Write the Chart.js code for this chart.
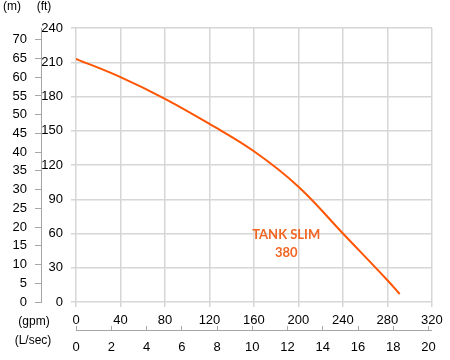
<!DOCTYPE html>
<html>
<head>
<meta charset="utf-8">
<script src="https://cdn.jsdelivr.net/npm/chart.js@4.4.1/dist/chart.umd.min.js"></script>
<style>
  html, body { margin: 0; padding: 0; background: #fff; }
  #wrap { width: 450px; height: 360px; }
</style>
</head>
<body>
<div id="wrap"><canvas id="myChart"></canvas></div>
<script>
/* Pump curve - TANK SLIM 380 */

const seriesName = 'TANK SLIM 380';
const flowGpm = [0, 40, 80, 120, 160, 200, 240, 280, 291];
const headFt = [213, 197, 178, 156, 132, 101, 60, 19, 7];

const ftTicks = [0, 30, 60, 90, 120, 150, 180, 210, 240];
const mTicks = [0, 5, 10, 15, 20, 25, 30, 35, 40, 45, 50, 55, 60, 65, 70];
const gpmTicks = [0, 40, 80, 120, 160, 200, 240, 280, 320];
const lsecTicks = [0, 2, 4, 6, 8, 10, 12, 14, 16, 18, 20];

const FT_TO_M = 0.3048;
const GPM_TO_LSEC = 0.0630902;

const gridColor = '#d6d6d6';
const axisColor = '#a6a6a6';
const curveColor = '#ff5500';

Chart.defaults.font.family = "'Liberation Sans', Arial, sans-serif";
Chart.defaults.font.size = 13;
Chart.defaults.color = '#000';

function setTicks(list) {
  return function (scale) {
    scale.ticks = list.map(v => ({ value: v }));
  };
}

// unit captions + curve name
const extraText = {
  id: 'extraText',
  afterDraw(chart) {
    const ctx = chart.ctx;
    const xs = chart.scales.x, ys = chart.scales.y;
    ctx.save();
    ctx.fillStyle = '#000';
    ctx.font = "12px 'Liberation Sans', Arial, sans-serif";
    ctx.textAlign = 'center';
    ctx.textBaseline = 'middle';
    ctx.fillText('(m)', 12, 7);
    ctx.fillText('(ft)', 44, 7);
    ctx.fillText('(gpm)', 34, 322);
    ctx.fillText('(L/sec)', 33, 341);

    // curve name near the curve
    ctx.fillStyle = '#f26522';
    ctx.font = "bold 13px Lato, 'Liberation Sans', sans-serif";
    const cx = xs.getPixelForValue(189);
    const cy = ys.getPixelForValue(59);
    const parts = seriesName.split(' ');
    ctx.fillText(parts[0] + ' ' + parts[1], cx, cy);
    ctx.fillText(parts[2], cx, cy + 18);
    ctx.restore();
  }
};

function init() {
  const ctx = document.getElementById('myChart');

  const data = {
    datasets: [{
      label: seriesName,
      data: flowGpm.map((g, i) => ({ x: g, y: headFt[i] })),
      borderColor: curveColor,
      backgroundColor: curveColor,
      borderWidth: 2,
      pointRadius: 0,
      tension: 0.4,
      fill: false,
    }]
  };

  new Chart(ctx, {
    type: 'line',
    data: data,
    plugins: [extraText],
    options: {
      responsive: true,
      maintainAspectRatio: false,
      animation: false,
      layout: {
        padding: { top: 28, right: 15, bottom: 0, left: 0 },
      },
      plugins: {
        legend: { display: false },
        tooltip: { enabled: false },
      },
      scales: {
        x: {
          type: 'linear',
          position: 'bottom',
          min: 0,
          max: 320,
          afterBuildTicks: setTicks(gpmTicks),
          grid: { color: gridColor, lineWidth: 1.5, tickLength: 5 },
          border: { display: false },
          ticks: { padding: 6 },
          afterFit: s => { s.height = 28; },
        },
        x2: {
          type: 'linear',
          position: 'bottom',
          weight: 1,
          min: 0,
          max: 320 * GPM_TO_LSEC,
          afterBuildTicks: setTicks(lsecTicks),
          grid: { drawOnChartArea: false, color: axisColor, lineWidth: 1, tickLength: -4 },
          border: { display: true, color: axisColor, width: 1 },
          ticks: { padding: 14 },
          afterFit: s => { s.height = 30; },
        },
        y: {
          position: 'left',
          min: 0,
          max: 240,
          afterBuildTicks: setTicks(ftTicks),
          grid: { color: gridColor, lineWidth: 1.5, tickLength: 5 },
          border: { display: false },
          ticks: { padding: 8 },
          afterFit: s => { s.width = 35; },
        },
        y2: {
          position: 'left',
          weight: 1,
          min: 0,
          max: 240 * FT_TO_M,
          afterBuildTicks: setTicks(mTicks),
          grid: { drawOnChartArea: false, color: axisColor, lineWidth: 1, tickLength: 6 },
          border: { display: true, color: axisColor, width: 1 },
          ticks: { padding: 8 },
          afterFit: s => { s.width = 41; },
        },
      },
    },
  });
}

document.addEventListener('DOMContentLoaded', init, false);
</script>
</body>
</html>
